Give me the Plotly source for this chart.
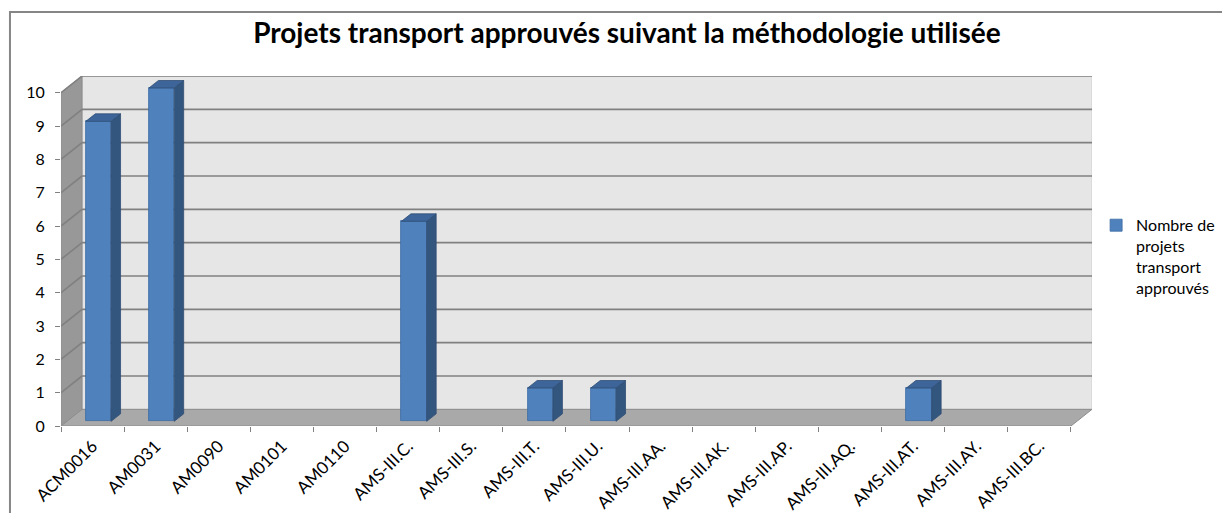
import plotly.graph_objects as go

# ---------------- data ----------------
categories = ["ACM0016", "AM0031", "AM0090", "AM0101", "AM0110",
              "AMS-III.C.", "AMS-III.S.", "AMS-III.T.", "AMS-III.U.",
              "AMS-III.AA.", "AMS-III.AK.", "AMS-III.AP.", "AMS-III.AQ.",
              "AMS-III.AT.", "AMS-III.AY.", "AMS-III.BC."]
values = [9, 10, 0, 0, 0, 6, 0, 1, 1, 0, 0, 0, 0, 1, 0, 0]
series_name = "Nombre de<br>projets<br>transport<br>approuvés"
y_ticks = list(range(0, 11))
title_text = "Projets transport approuvés suivant la méthodologie utilisée"

# ---------------- style / geometry ----------------
FONT = "Lato"
DX = 1 / 3      # depth shift in category units
DY = 0.5        # depth shift in value units
F0 = 0.28       # bar front position as fraction of depth
FD = 0.45       # bar depth as fraction of depth
BW = 0.4        # bar width
FRONT = "#4F81BD"
SIDE = "#33567F"
TOP = "#3D659A"
GRID = "#808080"

n = len(categories)
idx = list(range(n))
ymax = max(y_ticks)
x0, x1 = -0.5, n - 0.5

fig = go.Figure()

shapes = []
# back wall
shapes.append(dict(type="path", xref="x", yref="y", layer="below",
                   path=f"M{x0+DX},{DY} L{x1+DX},{DY} L{x1+DX},{ymax+DY} L{x0+DX},{ymax+DY} Z",
                   fillcolor="#E6E6E6", line=dict(color="#D0D0D0", width=1)))
# left wall
shapes.append(dict(type="path", xref="x", yref="y", layer="below",
                   path=f"M{x0},0 L{x0+DX},{DY} L{x0+DX},{ymax+DY} L{x0},{ymax} Z",
                   fillcolor="#989898", line=dict(color="#8C8C8C", width=1)))
# floor
shapes.append(dict(type="path", xref="x", yref="y", layer="below",
                   path=f"M{x0},0 L{x1},0 L{x1+DX},{DY} L{x0+DX},{DY} Z",
                   fillcolor="#A9A9A9", line=dict(color="#8C8C8C", width=1)))
# gridlines
for t in y_ticks:
    if t == 0:
        continue
    shapes.append(dict(type="line", xref="x", yref="y", layer="below",
                       x0=x0 + DX, x1=x1 + DX, y0=t + DY, y1=t + DY,
                       line=dict(color=GRID, width=1.6)))
    shapes.append(dict(type="line", xref="x", yref="y", layer="below",
                       x0=x0, x1=x0 + DX, y0=t, y1=t + DY,
                       line=dict(color=GRID, width=1.6)))
# chart border (left + top)
shapes.append(dict(type="path", xref="paper", yref="paper", layer="above",
                   path="M-0.0495,-0.4 L-0.0495,1.183 L1.3,1.183",
                   line=dict(color="#868686", width=2)))

# bar front faces (zero-valued categories draw nothing)
base = F0 * DY
bar_y = [v if v > 0 else None for v in values]
fig.add_trace(go.Bar(
    x=idx, y=bar_y, base=base, width=BW, offset=-BW / 2 + F0 * DX,
    marker=dict(color=FRONT, line=dict(color="#3A69A3", width=0.8)),
    name=series_name, showlegend=True, hoverinfo="skip"))

# side and top faces
sx, sy, tx, ty = [], [], [], []
ddx, ddy = FD * DX, FD * DY
for i, v in zip(idx, values):
    if v <= 0:
        continue
    xl = i - BW / 2 + F0 * DX
    xr = xl + BW
    yb = base
    yt = base + v
    sx += [xr, xr + ddx, xr + ddx, xr, xr, None]
    sy += [yb, yb + ddy, yt + ddy, yt, yb, None]
    tx += [xl, xl + ddx, xr + ddx, xr, xl, None]
    ty += [yt, yt + ddy, yt + ddy, yt, yt, None]

fig.add_trace(go.Scatter(x=sx, y=sy, mode="lines", fill="toself", fillcolor=SIDE,
                         line=dict(color="#2E4D74", width=0.8), showlegend=False, hoverinfo="skip"))
fig.add_trace(go.Scatter(x=tx, y=ty, mode="lines", fill="toself", fillcolor=TOP,
                         line=dict(color="#2E4D74", width=0.8), showlegend=False, hoverinfo="skip"))

fig.update_layout(
    width=1222, height=513, autosize=False,
    margin=dict(l=61, r=130, t=76, b=87, autoexpand=False),
    paper_bgcolor="white", plot_bgcolor="rgba(0,0,0,0)",
    font=dict(family=FONT, size=15, color="#000000"),
    title=dict(text=f"<b>{title_text}</b>", x=0.513, xanchor="center",
               y=1 - 33 / 513, yanchor="middle", yref="container",
               font=dict(family=FONT, size=28, color="#000000")),
    shapes=shapes,
    showlegend=True,
    legend=dict(x=1.004, xanchor="left", y=0.622, yanchor="top", valign="top",
                font=dict(family=FONT, size=16, color="#000000"),
                bgcolor="rgba(0,0,0,0)", tracegroupgap=0),
    bargap=0,
)
fig.update_xaxes(range=[x0, x1 + DX], tickmode="array", tickvals=idx, ticktext=categories,
                 tickangle=-45, ticks="", showgrid=False, zeroline=False, showline=False,
                 tickfont=dict(family=FONT, size=17), ticklabelstandoff=6,
                 minor=dict(tickmode="array", tickvals=[i - 0.5 for i in range(n + 1)],
                            ticks="outside", ticklen=5, tickcolor=GRID, tickwidth=1, showgrid=False),
                 fixedrange=True, automargin=False)
fig.update_yaxes(range=[0, ymax + DY], tickmode="array", tickvals=y_ticks,
                 ticks="outside", ticklen=5, tickcolor=GRID, tickwidth=1,
                 showgrid=False, zeroline=False, showline=False,
                 tickfont=dict(family=FONT, size=16), ticklabelstandoff=7,
                 fixedrange=True, automargin=False)

fig.write_html("out.html", config={"displayModeBar": False},
               post_script="document.body.style.margin='0';")
